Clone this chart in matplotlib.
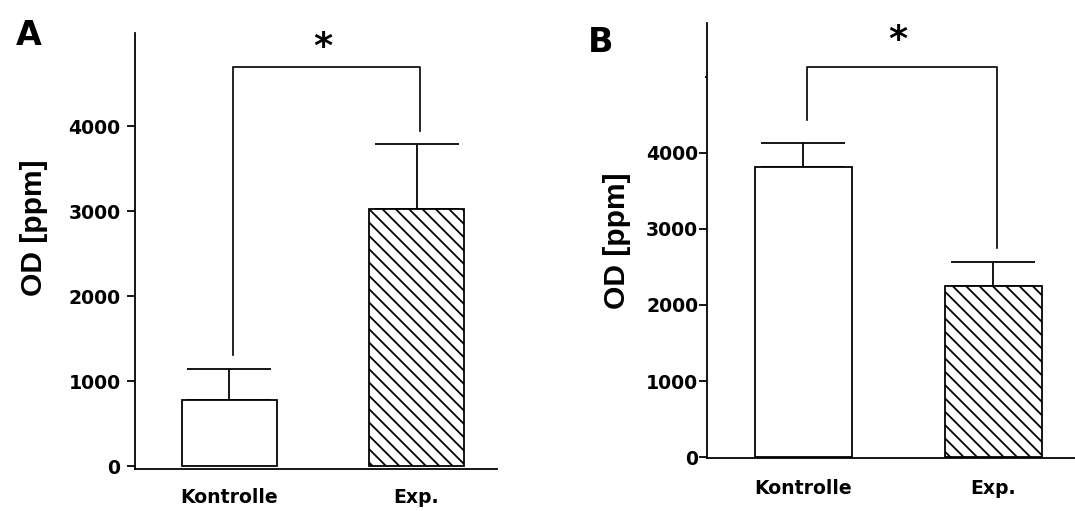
import numpy as np
import matplotlib
matplotlib.use("Agg")
import matplotlib.pyplot as plt

# values
groups = ["Kontrolle", "Exp."]
a_means = [780, 3020]
a_err = [360, 770]
b_means = [3810, 2250]
b_err = [320, 315]
# significance brackets: leg ends and top
a_legs = [1310, 3940]
a_top = 4690
b_legs = [4430, 2750]
b_top = 5130
yticks = [0, 1000, 2000, 3000, 4000]

DPI = 80
plt.rcParams["hatch.linewidth"] = 1.6
plt.rcParams["hatch.color"] = "black"

fig = plt.figure(figsize=(1075 / DPI, 511 / DPI), dpi=DPI)
axA = fig.add_axes([0.1256, 0.0822, 0.3367, 0.8532])
axB = fig.add_axes([0.6577, 0.1037, 0.3423, 0.8513])

tick_font = dict(family="DejaVu Sans", weight="bold", size=17)
hatches = ["", "\\\\"]


def panel(ax, means, err, legs, top, ylim, star_y, ypad, xpad):
    x = np.arange(len(groups))
    bars = ax.bar(x, means, width=0.51, color="white", edgecolor="black",
                  linewidth=1.6, zorder=2)
    for b, h in zip(bars, hatches):
        b.set_hatch(h)
    ax.errorbar(x, means, yerr=[[0, 0], err], fmt="none", ecolor="black",
                elinewidth=1.6, capsize=38, capthick=1.6, zorder=1)
    bx = x + 0.02
    ax.plot([bx[0], bx[0], bx[1], bx[1]], [legs[0], top, top, legs[1]],
            color="black", lw=1.5)
    ax.text(0.5, star_y, "*", ha="center", va="center",
            family="DejaVu Sans", weight="bold", fontsize=33)
    ax.set_xlim(-0.505, x[-1] + 0.43)
    ax.set_ylim(*ylim)
    ax.set_yticks(yticks)
    ax.set_yticklabels([str(t) for t in yticks], fontdict=tick_font)
    ax.set_xticks(x)
    ax.set_xticklabels(groups, fontdict=tick_font)
    ax.tick_params(axis="x", length=0, pad=xpad)
    ax.tick_params(axis="y", length=7, width=1.6, pad=ypad)
    for s in ["top", "right"]:
        ax.spines[s].set_visible(False)
    for s in ["left", "bottom"]:
        ax.spines[s].set_linewidth(1.6)


panel(axA, a_means, a_err, a_legs, a_top, (-35, 5094), 4920, 6, 17)
panel(axB, b_means, b_err, b_legs, b_top, (-13, 5710), 5480, 1, 19)
axB.set_yticks([5000], minor=True)
axB.tick_params(axis="y", which="minor", length=2, width=1.6)

fig.text(0.0316, 0.554, "OD [ppm]", rotation=90, ha="center", va="center",
         family="Liberation Sans", weight="bold", fontsize=27)
fig.text(0.574, 0.528, "OD [ppm]", rotation=90, ha="center", va="center",
         family="Liberation Sans", weight="bold", fontsize=27)
fig.text(0.027, 0.931, "A", ha="center", va="center",
         family="DejaVu Sans", weight="bold", fontsize=30)
fig.text(0.559, 0.916, "B", ha="center", va="center",
         family="DejaVu Sans", weight="bold", fontsize=30)

fig.savefig("out.png", dpi=DPI)
